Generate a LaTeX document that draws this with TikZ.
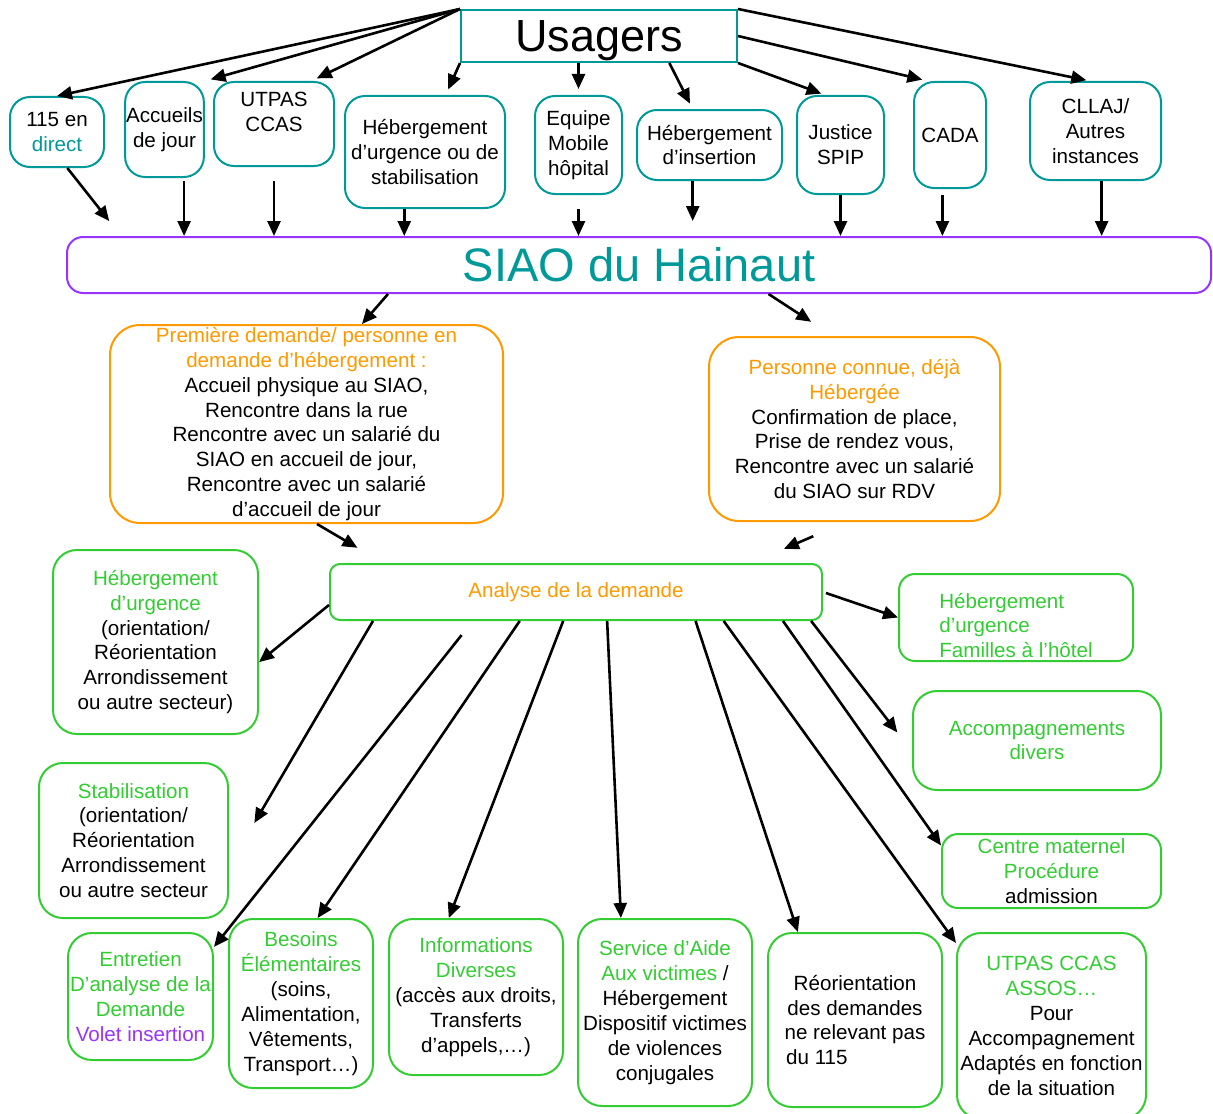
\documentclass[tikz,border=0pt]{standalone}
\usepackage{fontspec}
\setmainfont{Liberation Sans}
\usetikzlibrary{arrows.meta,calc}
\definecolor{siaoteal}{RGB}{0,153,153}
\definecolor{siaoorange}{RGB}{255,153,0}
\definecolor{siaogreen}{RGB}{51,204,51}
\definecolor{siaopurple}{RGB}{153,51,255}
\newcommand{\orangetxt}[1]{\textcolor{siaoorange}{#1}}
\newcommand{\greentxt}[1]{\textcolor{siaogreen}{#1}}
\tikzset{boxsize/.style 2 args={minimum width=#1*0.5pt, minimum height=#2*0.5pt}}
\begin{document}
\begin{tikzpicture}[x=0.5pt,y=-0.5pt,
  every node/.style={font=\fontsize{10.3}{12.45}\selectfont, align=center, inner sep=0.5pt},
  tealbox/.style={draw=siaoteal, line width=1pt, rounded corners=10pt},
  orangebox/.style={draw=siaoorange, line width=1pt, rounded corners=15pt},
  greenbox/.style={draw=siaogreen, line width=1pt, rounded corners=12pt},
  arr/.style={-{Triangle[length=7.5pt,width=6.5pt]}, line width=1.3pt}]
\useasboundingbox (0,0) rectangle (1213,1113);
%Usagers
\node[draw=siaoteal, line width=1pt, boxsize={276}{52}, text depth=0pt, font=\fontsize{22.5}{27}\selectfont] (usag) at (599,36) {Usagers};
%Top row
\node[tealbox, boxsize={94}{70}] (d115) at (57,132) {115 en\\\textcolor{siaoteal}{direct}};
\node[tealbox, boxsize={77}{95}] (accueil) at (164.5,129.5) {Accueils\\de jour};
\node[tealbox, boxsize={120}{84}] (utpas) at (274,124) {UTPAS\\CCAS\\\mbox{}};
\node[tealbox, boxsize={160}{112}] (heberg) at (425,152) {Hébergement\\d’urgence ou de\\stabilisation};
\node[tealbox, boxsize={87}{98}] (equipe) at (578.5,145) {Equipe\\Mobile\\hôpital};
\node[tealbox, boxsize={145}{70}] (insertion) at (709.5,145) {Hébergement\\d’insertion};
\node[tealbox, boxsize={87}{98}] (justice) at (840.5,145) {Justice\\SPIP};
\node[tealbox, boxsize={72}{106}] (cada) at (950,135) {CADA};
\node[tealbox, boxsize={131}{98}] (cllaj) at (1095.5,131) {CLLAJ/\\Autres\\instances};
%SIAO
\node[draw=siaopurple, line width=1pt, rounded corners=8pt, boxsize={1144}{56}, text=siaoteal, font=\fontsize{23.5}{28}\selectfont] (siao) at (639,265) {SIAO du Hainaut};
%Demandes
\node[orangebox, boxsize={393}{198}] (premiere) at (306.5,424) {\orangetxt{Première demande/ personne en}\\\orangetxt{demande d’hébergement :}\\Accueil physique au SIAO,\\Rencontre dans la rue\\Rencontre avec un salarié du\\SIAO en accueil de jour,\\Rencontre avec un salarié\\d’accueil de jour};
\node[orangebox, boxsize={291}{184}] (personne) at (854.5,429) {\orangetxt{Personne connue, déjà}\\\orangetxt{Hébergée}\\Confirmation de place,\\Prise de rendez vous,\\Rencontre avec un salarié\\du SIAO sur RDV};
%Analyse
\node[draw=siaogreen, line width=1pt, rounded corners=5pt, boxsize={492}{56}, text=siaoorange] (analyse) at (576,592) {Analyse de la demande};
%Orientations
\node[greenbox, boxsize={205}{184}] (urgence) at (155.5,642) {\greentxt{Hébergement}\\\greentxt{d’urgence}\\(orientation/\\Réorientation\\Arrondissement\\ou autre secteur)};
\node[greenbox, boxsize={189}{155}] (stab) at (133.5,840.5) {\greentxt{Stabilisation}\\(orientation/\\Réorientation\\Arrondissement\\ou autre secteur};
\node[greenbox, boxsize={145}{127}] (entretien) at (140.5,996.5) {\greentxt{Entretien}\\\greentxt{D’analyse de la}\\\greentxt{Demande}\\\textcolor{siaopurple}{Volet insertion}};
\node[greenbox, boxsize={144}{169}] (besoins) at (301,1003.5) {\greentxt{Besoins}\\\greentxt{Élémentaires}\\(soins,\\Alimentation,\\Vêtements,\\Transport…)};
\node[greenbox, boxsize={174}{156}] (infos) at (476,997) {\greentxt{Informations}\\\greentxt{Diverses}\\(accès aux droits,\\Transferts\\d’appels,…)};
\node[greenbox, boxsize={174}{187}] (service) at (665,1012.5) {\greentxt{Service d’Aide}\\\greentxt{Aux victimes} /\\Hébergement\\Dispositif victimes\\de violences\\conjugales};
\node[greenbox, boxsize={174}{174}] (reorient) at (855,1020) {Réorientation\\des demandes\\ne relevant pas\\du 115\hspace*{3.7em}};
\node[greenbox, boxsize={189}{186}] (assos) at (1051.5,1026) {\greentxt{UTPAS CCAS}\\\greentxt{ASSOS…}\\Pour\\Accompagnement\\Adaptés en fonction\\de la situation};
\node[greenbox, rounded corners=8pt, boxsize={234}{87}, align=left, text=siaogreen] (familles) at (1016,617.5) {\rule{0pt}{15.5pt}Hébergement\\d’urgence\\Familles à l’hôtel};
\node[greenbox, boxsize={248}{99}] (accomp) at (1037,740.5) {\greentxt{Accompagnements}\\\greentxt{divers}};
\node[greenbox, rounded corners=8pt, boxsize={219}{74}] (maternel) at (1051.5,871) {\greentxt{Centre maternel}\\\greentxt{Procédure}\\admission};
%Usagers to top row
\draw[arr] (usag.north west) -- (d115.north);
\draw[arr, shorten >=3pt] (usag.north west) -- (accueil.north east);
\draw[arr, shorten >=3pt] (usag.north west) -- (utpas.49);
\draw[arr, shorten >=3pt] (usag.south west) -- (heberg.70);
\draw[arr, shorten >=3pt] (equipe.north |- usag.south) -- (equipe.north);
\draw[arr, shorten >=3pt] (usag.-21.5) -- (insertion.115);
\draw[arr, shorten >=2pt] (usag.south east) -- (justice.107);
\draw[arr, shorten >=3pt] (usag.east) -- (cada.112);
\draw[arr, shorten >=2pt] (usag.north east) -- (cllaj.96);
%Top row to SIAO
\draw[arr, shorten >=9.5pt] (d115.-74) -- ($(siao.north west)!0.048!(siao.north east)$);
\draw[arr, shorten <=1.5pt] (accueil.-68) -- (accueil.-68 |- siao.north);
\draw[arr, shorten <=7pt] (utpas.south) -- (utpas.south |- siao.north);
\draw[arr] (heberg.-110.6) -- (heberg.-110.6 |- siao.north);
\draw[arr, shorten <=7pt] (equipe.south) -- (equipe.south |- siao.north);
\draw[arr, shorten >=7.5pt] (insertion.-115) -- (insertion.-115 |- siao.north);
\draw[arr] (justice.south) -- (justice.south |- siao.north);
\draw[arr, shorten <=3pt] (cada.-98.6) -- (cada.-98.6 |- siao.north);
\draw[arr] (cllaj.-83.6) -- (cllaj.-83.6 |- siao.north);
%SIAO to demandes
\draw[arr] ($(siao.south west)!0.281!(siao.south east)$) -- (premiere.61.6);
\draw[arr, shorten >=13pt] ($(siao.south west)!0.613!(siao.south east)$) -- (personne.103.9);
\draw[arr, shorten >=15pt] (premiere.-84) -- ($(analyse.north west)!0.11!(analyse.north east)$);
\draw[arr, shorten <=18pt, shorten >=18pt] (personne.-95.9) -- ($(analyse.north west)!0.854!(analyse.north east)$);
%Analyse to orientations
\draw[arr] (analyse.183.3) -- (urgence.-11);
\draw[arr, shorten >=25pt] ($(analyse.south west)!0.089!(analyse.south east)$) -- (stab.-15.1);
\draw[arr, shorten <=9pt] ($(analyse.south west)!0.291!(analyse.south east)$) -- (entretien.34.6);
\draw[arr] ($(analyse.south west)!0.386!(analyse.south east)$) -- (besoins.79.3);
\draw[arr] ($(analyse.south west)!0.474!(analyse.south east)$) -- (infos.109.1);
\draw[arr] ($(analyse.south west)!0.563!(analyse.south east)$) -- (service.115.2);
\draw[arr] ($(analyse.south west)!0.742!(analyse.south east)$) -- (reorient.123.7);
\draw[arr] ($(analyse.south west)!0.799!(analyse.south east)$) -- (assos.139.7);
\draw[arr, shorten <=1.5pt] (analyse.east) -- (familles.west);
\draw[arr, shorten >=12pt] ($(analyse.south west)!0.976!(analyse.south east)$) -- (accomp.185.3);
\draw[arr] ($(analyse.south west)!0.919!(analyse.south east)$) -- (maternel.167.6);
\end{tikzpicture}
\end{document}
